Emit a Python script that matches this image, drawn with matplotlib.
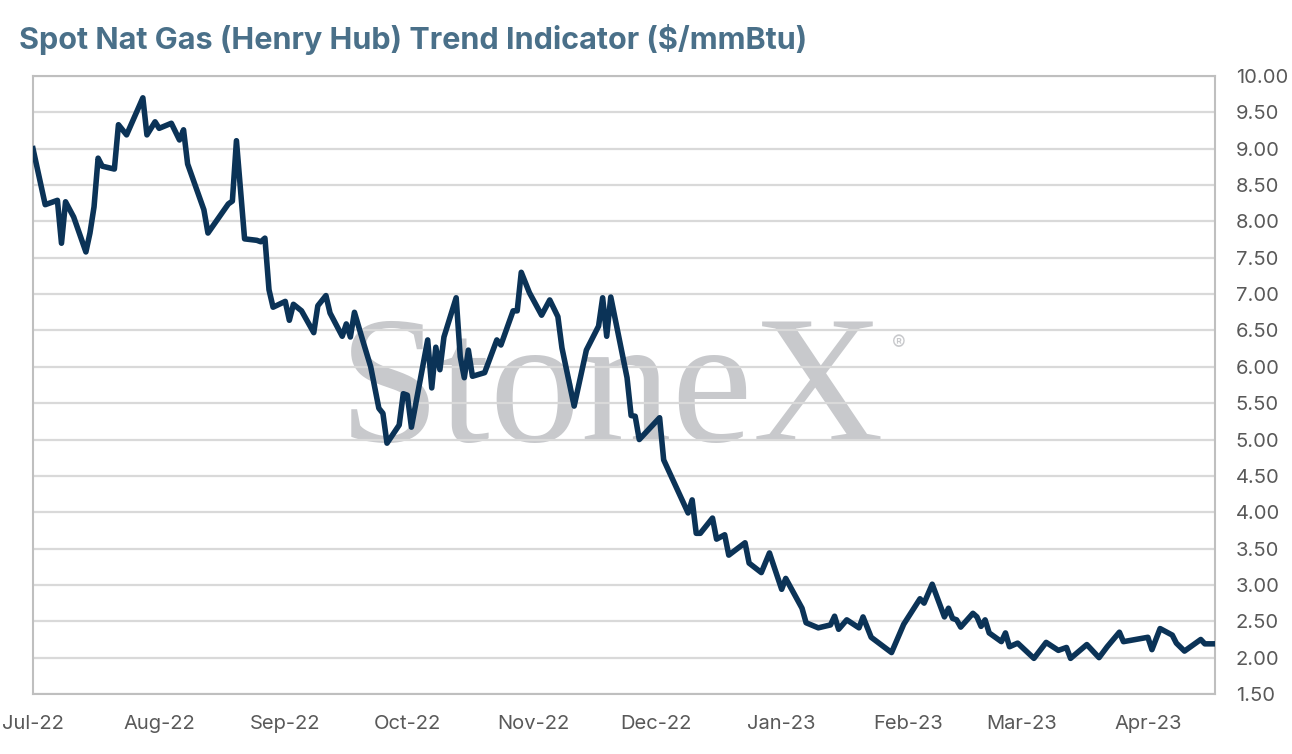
import matplotlib
matplotlib.use('Agg')
import matplotlib.pyplot as plt
import matplotlib.dates as mdates
import pandas as pd

days = [0, 3, 6, 7, 8, 10, 13, 14, 15, 16, 17, 20, 21, 23, 27, 28, 30, 31, 34, 36,
        37, 38, 42, 43, 48, 49, 50, 52, 55, 56, 57, 58, 59, 62, 63, 64, 66, 69, 70, 72,
        73, 76, 77, 78, 79, 81, 83, 85, 86, 87, 90, 91, 92, 93, 97, 98, 99, 100, 101, 104,
        105, 106, 107, 108, 111, 114, 115, 118, 119, 120, 122, 125, 127, 129, 130, 133, 136, 137, 139, 140,
        141, 142, 146, 147, 148, 149, 154, 155, 161, 162, 163, 164, 167, 168, 170, 171, 175, 176, 179, 181,
        184, 185, 189, 190, 193, 196, 197, 198, 200, 203, 204, 206, 211, 214, 218, 219, 221, 224, 225, 226,
        227, 228, 231, 232, 233, 234, 235, 238, 239, 240, 242, 246, 249, 252, 254, 255, 259, 262, 264, 267,
        268, 270, 274, 275, 277, 280, 281, 283, 287, 288, 290]
price = [9.00, 8.23, 8.29, 7.70, 8.27, 8.06, 7.58, 7.84, 8.20, 8.87, 8.76, 8.72, 9.33, 9.19, 9.70, 9.19, 9.37, 9.28, 9.35, 9.12,
         9.26, 8.79, 8.16, 7.84, 8.24, 8.28, 9.11, 7.76, 7.74, 7.72, 7.77, 7.06, 6.82, 6.90, 6.64, 6.86, 6.77, 6.47, 6.84, 6.98,
         6.74, 6.42, 6.59, 6.41, 6.75, 6.37, 6.00, 5.43, 5.36, 4.95, 5.20, 5.63, 5.61, 5.17, 6.37, 5.71, 6.27, 5.96, 6.41, 6.95,
         6.14, 5.85, 6.23, 5.87, 5.92, 6.37, 6.30, 6.77, 6.77, 7.30, 7.02, 6.71, 6.92, 6.69, 6.26, 5.46, 6.23, 6.34, 6.56, 6.95,
         6.42, 6.96, 5.85, 5.33, 5.32, 5.00, 5.30, 4.72, 3.99, 4.17, 3.71, 3.71, 3.92, 3.63, 3.69, 3.41, 3.58, 3.30, 3.17, 3.44,
         2.94, 3.09, 2.68, 2.48, 2.41, 2.45, 2.57, 2.39, 2.52, 2.41, 2.56, 2.28, 2.07, 2.46, 2.81, 2.75, 3.01, 2.56, 2.68, 2.54,
         2.52, 2.42, 2.61, 2.56, 2.43, 2.52, 2.34, 2.22, 2.34, 2.15, 2.20, 1.99, 2.21, 2.10, 2.14, 1.99, 2.18, 2.00, 2.15, 2.35,
         2.22, 2.24, 2.28, 2.11, 2.40, 2.31, 2.20, 2.09, 2.25, 2.19, 2.19]

start = pd.Timestamp('2022-07-01')
dates = [start + pd.Timedelta(days=d) for d in days]
month_ticks = pd.date_range('2022-07-01', '2023-04-01', freq='MS')

title_color = '#4A7089'
line_color = '#0B3357'
label_color = '#595959'
grid_color = '#D9D9D9'
frame_color = '#BFBFBF'
mark_color = '#C8C9CC'

plt.rcParams['font.family'] = ['Inter', 'DejaVu Sans']

fig = plt.figure(figsize=(12.92, 7.54), dpi=100)
fig.set_facecolor('white')
ax = fig.add_axes([33 / 1292, 1 - 694 / 754, (1215 - 33) / 1292, (694 - 76) / 754])

ax.plot(dates, price, color=line_color, linewidth=4, solid_joinstyle='round', zorder=3)

ax.set_ylim(1.5, 10.0)
ax.set_yticks([1.5 + 0.5 * i for i in range(18)])
ax.yaxis.set_major_formatter(plt.FuncFormatter(lambda v, p: '{:.2f}'.format(v)))
ax.yaxis.tick_right()
ax.set_xlim(start, start + pd.Timedelta(days=290.5))
ax.set_xticks(month_ticks)
ax.xaxis.set_major_formatter(mdates.DateFormatter('%b-%y'))

ax.grid(axis='y', color=grid_color, linewidth=1.6, zorder=1)
ax.set_axisbelow(True)
ax.tick_params(length=0, labelsize=14.5, colors=label_color)
ax.tick_params(axis='y', pad=15)
ax.tick_params(axis='x', pad=15)
for side in ax.spines.values():
    side.set_color(frame_color)
    side.set_linewidth(1.5)

# watermark
ax.text(0.49, 0.41, 'StoneX', transform=ax.transAxes, ha='center', va='baseline',
        fontsize=131, family='Liberation Serif', color=mark_color, zorder=0.5)
ax.text(0.733, 0.565, '\u00ae', transform=ax.transAxes, ha='center', va='center',
        fontsize=15, color=mark_color, zorder=0.5)

fig.text(19 / 1292, 1 - 49 / 754, 'Spot Nat Gas (Henry Hub) Trend Indicator ($/mmBtu)',
         fontsize=22, fontweight='bold', color=title_color, ha='left', va='baseline')

fig.savefig('out.png', dpi=100, facecolor='white')
